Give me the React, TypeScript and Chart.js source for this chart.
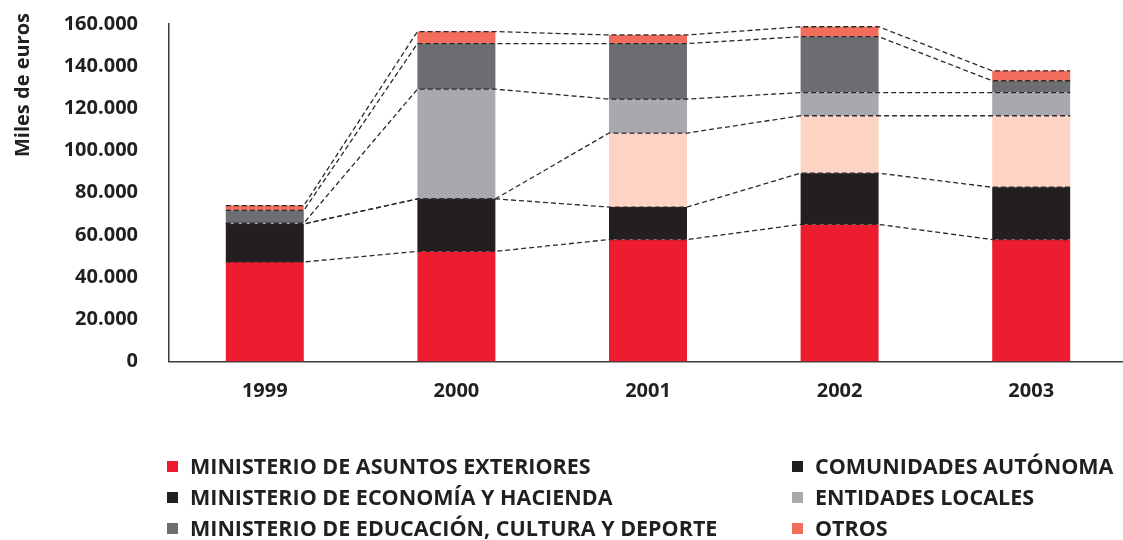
import React, { useEffect, useRef } from "react";
import { Chart, registerables } from "chart.js";

Chart.register(...registerables);

const categories = ["1999", "2000", "2001", "2002", "2003"];
const seriesNames = [
  "MINISTERIO DE ASUNTOS EXTERIORES",
  "MINISTERIO DE ECONOMÍA Y HACIENDA",
  "COMUNIDADES AUTÓNOMA",
  "ENTIDADES LOCALES",
  "MINISTERIO DE EDUCACIÓN, CULTURA Y DEPORTE",
  "OTROS",
];
const asuntosExteriores = [47200, 52200, 57800, 65000, 57800];
const economiaHacienda = [18000, 24900, 15400, 24300, 24800];
const comunidadesAutonomas = [0, 0, 35100, 27200, 33900];
const entidadesLocales = [400, 52000, 16100, 11000, 11000];
const educacionCultura = [6000, 21600, 26300, 26500, 5600];
const otros = [2300, 5700, 4100, 4700, 4700];
const yTicks = [0, 20000, 40000, 60000, 80000, 100000, 120000, 140000, 160000];

const seriesValues = [
  asuntosExteriores,
  economiaHacienda,
  comunidadesAutonomas,
  entidadesLocales,
  educacionCultura,
  otros,
];
const barColors = ["#ED1C2E", "#231F20", "#FDD4C4", "#A7A9AC", "#6D6E71", "#F26D5B"];
const legendColors = ["#ED1C2E", "#231F20", "#231F20", "#A7A9AC", "#6D6E71", "#F26D5B"];
// legend layout: column 1 then column 2
const legendOrder = [
  [0, 1, 4],
  [2, 3, 5],
];

const FONT = "'Open Sans', 'DejaVu Sans', sans-serif";
const TEXT = "#231F20";

const connectorPlugin = {
  id: "connectors",
  afterDatasetsDraw(chart: any) {
    const ctx = chart.ctx;
    ctx.save();
    ctx.strokeStyle = "#2a2a2a";
    ctx.lineWidth = 1.3;
    ctx.setLineDash([5, 3]);
    chart.data.datasets.forEach((_: any, di: number) => {
      const meta = chart.getDatasetMeta(di);
      ctx.beginPath();
      meta.data.forEach((bar: any, i: number) => {
        const p = bar.getProps(["x", "y", "width"], true);
        const l = p.x - p.width / 2;
        const r = p.x + p.width / 2;
        if (i === 0) ctx.moveTo(l, p.y);
        else ctx.lineTo(l, p.y);
        ctx.lineTo(r, p.y);
      });
      ctx.stroke();
    });
    ctx.restore();
  },
};

const titlePlugin = {
  id: "yTitle",
  afterDraw(chart: any) {
    const ctx = chart.ctx;
    ctx.save();
    ctx.translate(23, 85);
    ctx.rotate(-Math.PI / 2);
    ctx.fillStyle = TEXT;
    ctx.font = `bold 20px ${FONT}`;
    ctx.textAlign = "center";
    ctx.textBaseline = "middle";
    ctx.fillText("Miles de euros", 0, 0);
    ctx.restore();
  },
};

export default function App() {
  const ref = useRef<HTMLCanvasElement | null>(null);

  useEffect(() => {
    if (!ref.current) return;
    const chart = new Chart(ref.current, {
      type: "bar",
      data: {
        labels: categories,
        datasets: seriesValues.map((vals, i) => ({
          label: seriesNames[i],
          data: vals,
          backgroundColor: barColors[i],
          borderWidth: 0,
          categoryPercentage: 1,
          barPercentage: 0.407,
        })),
      },
      options: {
        animation: false,
        responsive: false,
        maintainAspectRatio: false,
        layout: { padding: { top: 24, right: 13, left: 0, bottom: 0 } },
        plugins: { legend: { display: false }, tooltip: { enabled: false } },
        scales: {
          x: {
            stacked: true,
            grid: { display: false, drawTicks: false },
            border: { display: true, color: "#3d3d3d", width: 1.5 },
            ticks: {
              color: TEXT,
              font: { family: FONT, size: 20, weight: "bold" },
              padding: 18,
            },
            afterFit: (s: any) => {
              s.height = 540 - 361.5;
              s.paddingLeft = 0;
              s.paddingRight = 0;
            },
          },
          y: {
            stacked: true,
            min: 0,
            max: 160000,
            afterBuildTicks: (s: any) => {
              s.ticks = yTicks.map((v) => ({ value: v }));
            },
            grid: { display: false, drawTicks: false },
            border: { display: true, color: "#3d3d3d", width: 1.5 },
            ticks: {
              color: TEXT,
              font: { family: FONT, size: 20, weight: "bold" },
              padding: 31,
              callback: (v: any) => (v === 0 ? "0" : `${Math.round(v / 1000)}.000`),
            },
            afterFit: (s: any) => {
              s.width = 169;
              s.paddingTop = 0;
              s.paddingBottom = 0;
            },
          },
        },
      },
      plugins: [connectorPlugin, titlePlugin],
    });
    return () => chart.destroy();
  }, []);

  const rowsY = [466, 497, 528];
  const cols = [
    { sq: 167, tx: 190 },
    { sq: 792, tx: 815 },
  ];

  return (
    <div
      style={{
        position: "fixed",
        left: 0,
        top: 0,
        width: 1123,
        height: 540,
        overflow: "hidden",
        background: "#fff",
      }}
    >
      <canvas ref={ref} width={1140} height={540} style={{ position: "absolute", left: 0, top: 0 }} />
      {legendOrder.map((col, ci) =>
        col.map((si, ri) => (
          <React.Fragment key={`${ci}-${ri}`}>
            <div
              style={{
                position: "absolute",
                left: cols[ci].sq,
                top: rowsY[ri] - 5,
                width: 11,
                height: 11,
                background: legendColors[si],
              }}
            />
            <div
              style={{
                position: "absolute",
                left: cols[ci].tx,
                top: rowsY[ri] - 15,
                height: 30,
                lineHeight: "30px",
                fontFamily: FONT,
                fontWeight: 700,
                fontSize: 21.5,
                color: TEXT,
                whiteSpace: "nowrap",
              }}
            >
              {seriesNames[si]}
            </div>
          </React.Fragment>
        ))
      )}
    </div>
  );
}
